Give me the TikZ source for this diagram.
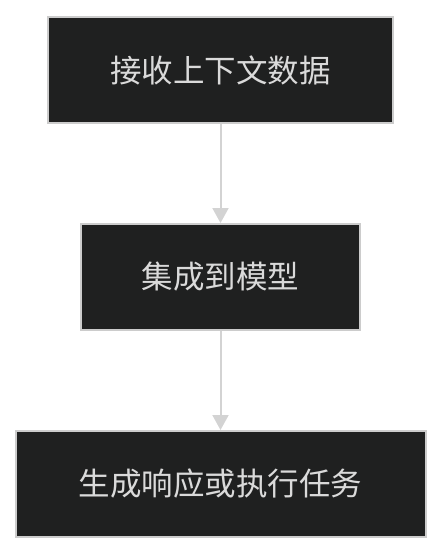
\documentclass[tikz,border=0pt]{standalone}
\usepackage{fontspec}
\newfontfamily\cjk{Noto Sans CJK SC}
\usetikzlibrary{arrows.meta, positioning}
\definecolor{boxfill}{HTML}{1F2020}
\definecolor{boxline}{HTML}{CCCCCC}
\definecolor{boxtext}{HTML}{DADADA}
\definecolor{arrowline}{HTML}{D3D3D3}

\begin{document}
\begin{tikzpicture}[
    x=1pt, y=-1pt,
    node distance=99pt,
    block/.style={rectangle, draw=boxline, line width=2pt, fill=boxfill,
                  minimum height=106pt, align=center, text=boxtext,
                  font=\cjk\fontsize{31.5}{38}\selectfont},
    arrow/.style={-{Triangle[width=16pt, length=15pt]}, line width=2pt,
                  draw=arrowline, color=arrowline},
  ]
  \useasboundingbox (0,0) rectangle (442,556);

  % Steps
  \node[block, minimum width=345pt] (receive) at (220.5,70) {接收上下文数据};
  \node[block, minimum width=279pt, below=of receive] (integrate) {集成到模型};
  \node[block, minimum width=410pt, below=of integrate] (respond) {生成响应或执行任务};

  % Arrows
  \draw[arrow] (receive) -- (integrate);
  \draw[arrow] (integrate) -- (respond);
\end{tikzpicture}
\end{document}
